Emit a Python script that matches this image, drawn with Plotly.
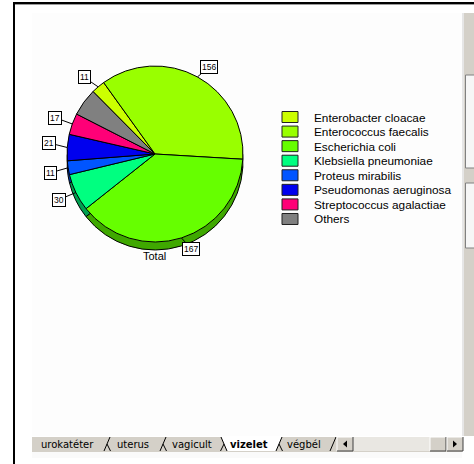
import math
import plotly.graph_objects as go

W, H = 474, 464

# ---- data -------------------------------------------------------------
organisms = [
    "Enterobacter cloacae",
    "Enterococcus faecalis",
    "Escherichia coli",
    "Klebsiella pneumoniae",
    "Proteus mirabilis",
    "Pseudomonas aeruginosa",
    "Streptococcus agalactiae",
    "Others",
]
counts = [11, 156, 167, 30, 11, 21, 17, 22]
count_labelled = [True, True, True, True, True, True, True, False]
pie_title = "Total"
sheet_tabs = ["urokatéter", "uterus", "vagicult", "vizelet", "végbél"]
active_tab = "vizelet"

# ---- styling ----------------------------------------------------------
top_colors = ["#CCFF00", "#99FF00", "#66FF00", "#00FF80",
              "#0055FF", "#0000EE", "#FF0077", "#808080"]
side_colors = ["#88AA00", "#66AA00", "#3FA800", "#00A050",
               "#0038AA", "#0000A0", "#AA0050", "#555555"]

CX, CY, R, DEPTH = 155, 154, 88, 8     # pie centre / radius / 3-D depth (px)
ROT = -44.8                            # start angle of first slice
FONT = "Liberation Sans, Arial, sans-serif"
UI_FONT = "DejaVu Sans, Tahoma, sans-serif"


def px(x):
    return x / W


def py(y):
    return 1 - y / H


def pie(colors, shift):
    return go.Pie(
        labels=organisms, values=counts, sort=False, direction="clockwise",
        rotation=ROT, textinfo="none", hoverinfo="skip", showlegend=False,
        marker=dict(colors=colors, line=dict(color="black", width=1)),
        domain=dict(x=[px(CX - R), px(CX + R)],
                    y=[py(CY + R + shift), py(CY - R + shift)]),
    )


fig = go.Figure([pie(side_colors, DEPTH), pie(top_colors, 0)])

shapes = []
annotations = []


def rect(x0, y0, x1, y1, fill, line=None, lw=1, layer="below"):
    shapes.append(dict(
        type="rect", xref="paper", yref="paper",
        x0=px(x0), x1=px(x1), y0=py(y1), y1=py(y0),
        fillcolor=fill, layer=layer,
        line=dict(color=line or fill, width=lw if line else 0)))


def line(x0, y0, x1, y1, color="black", w=1, layer="above"):
    shapes.append(dict(
        type="line", xref="paper", yref="paper",
        x0=px(x0), x1=px(x1), y0=py(y0), y1=py(y1), layer=layer,
        line=dict(color=color, width=w)))


def path(points, fill, color=None, layer="above"):
    d = "M" + " L".join(f"{px(x)},{py(y)}" for x, y in points) + " Z"
    shapes.append(dict(type="path", xref="paper", yref="paper", path=d,
                       fillcolor=fill, layer=layer,
                       line=dict(color=color or fill, width=1 if color else 0)))


def text(x, y, s, size, anchor="center", family=FONT):
    annotations.append(dict(
        x=px(x), y=py(y), xref="paper", yref="paper", text=s,
        showarrow=False, xanchor=anchor, yanchor="middle",
        font=dict(family=family, size=size, color="black")))


def sign(v):
    return (v > 0) - (v < 0)


# window frame and chart area
rect(32, 13, 462, 436, "#FDFDFD")
rect(13, 2, 474, 4, "#000000")
rect(13, 2, 15, 464, "#000000")
rect(15, 4, 474, 5, "#9A9A9A")

# right-hand scroll strip
rect(462, 13, 464, 436, "#E6E6E6")
rect(464, 13, 474, 436, "#D4D0C8")
rect(465.5, 75, 476, 168, "#F6F6F6", "#808080")
rect(465.5, 183, 476, 248, "#F6F6F6", "#808080")

# sheet tab bar
rect(32, 436, 462, 452, "#D4D0C8")
line(32, 436.5, 462, 436.5, "#FFFFFF", 1)
tab_edges = [32, 107, 163, 224, 279, 333]
active = sheet_tabs.index(active_tab)
a0, a1 = tab_edges[active], tab_edges[active + 1]
path([(a0 - 3, 437), (a0 + 3, 451), (a1 - 3, 451), (a1 + 3, 437)], "#FFFFFF")
for i, name in enumerate(sheet_tabs):
    xc = (tab_edges[i] + tab_edges[i + 1]) / 2 - 2
    label = f"<b>{name}</b>" if name == active_tab else name
    text(xc, 444.5, label, 10, family=UI_FONT)
for j, b in enumerate(tab_edges[1:], start=1):
    if j == active:            # left edge of the front tab
        line(b - 3, 437, b + 3, 451, "#000000")
        line(b - 3.5, 451, b, 444, "#000000")
    elif j == len(tab_edges) - 1:
        line(b - 3, 451, b + 3, 437, "#000000")
    else:
        line(b - 3, 451, b + 3, 437, "#000000")
        line(b, 444, b + 3.5, 451, "#000000")

# tab scroll buttons
rect(353, 437, 430, 451, "#E9E7E2")
for x0, x1 in [(337, 353), (430, 446), (447, 463)]:
    rect(x0, 437, x1, 451, "#D4D0C8", layer="above")
    line(x0, 437, x1, 437, "#FFFFFF")
    line(x0, 437, x0, 451, "#FFFFFF")
    line(x1, 437, x1, 451, "#404040")
    line(x0, 451, x1, 451, "#404040")
path([(347, 440.5), (343, 444), (347, 447.5)], "#000000")
path([(453, 440.5), (457, 444), (453, 447.5)], "#000000")
rect(32, 452, 462, 458, "#FAFAFA")

# boxed value labels with leader lines, placed from each slice's mid-angle
total = sum(counts)
start = ROT
for v, shown in zip(counts, count_labelled):
    mid = math.radians(start + v / total * 180)
    start += v / total * 360
    if not shown:
        continue
    sx, sy = math.sin(mid), -math.cos(mid)
    rx, ry = CX + R * sx, CY + R * sy
    ax = 18 * sx + 6 * sign(sx) * (1 - abs(sx))
    ay = 11 * sy + 4 * sign(sy) * (1 - abs(sy))
    annotations.append(dict(
        x=px(rx), y=py(ry), xref="paper", yref="paper", text=str(v),
        showarrow=True, arrowhead=0, arrowwidth=1, arrowcolor="black",
        standoff=0, startstandoff=0, ax=ax, ay=ay,
        bgcolor="white", bordercolor="black", borderwidth=1, borderpad=1,
        font=dict(family=FONT, size=8.5, color="black")))

# pie caption
text(CX - 1, 256, pie_title, 11)

# legend
for i, (name, col) in enumerate(zip(organisms, top_colors)):
    yc = 117 + i * 14.57
    rect(282, yc - 5.5, 298, yc + 5.5, col, "#202020", 1, layer="above")
    text(312, yc + 0.5, name, 11.8, anchor="left")

fig.update_layout(
    width=W, height=H, margin=dict(l=0, r=0, t=0, b=0),
    paper_bgcolor="white", plot_bgcolor="white",
    shapes=shapes, annotations=annotations,
    showlegend=False,
)

fig.write_html("out.html")
